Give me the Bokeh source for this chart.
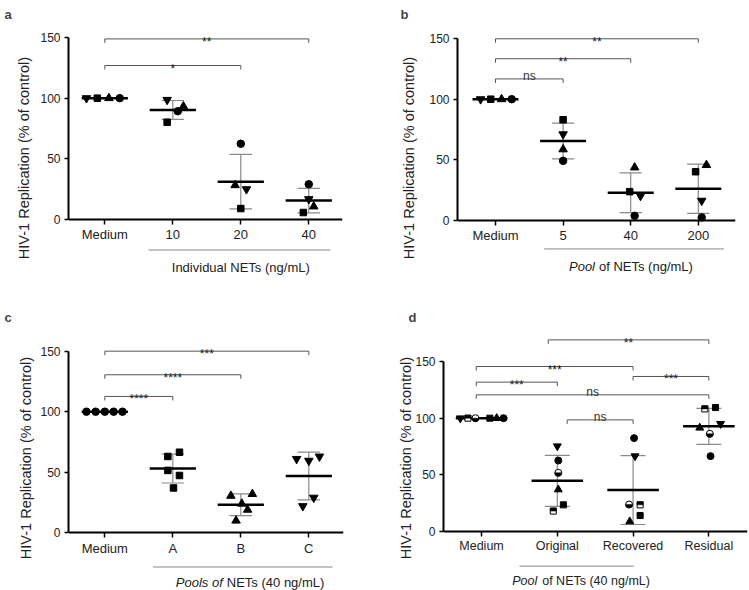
import numpy as np
from bokeh.plotting import figure
from bokeh.models import FixedTicker, LinearAxis
from bokeh.layouts import column, row
from bokeh.embed import file_html
from bokeh.resources import INLINE
from bokeh.core.properties import value

FONT = "Liberation Sans"

# ---------------- data ----------------
y_ticks = [0, 50, 100, 150]
y_title = "HIV-1 Replication (% of control)"

# Panel a (donor order: inverted triangle, square, triangle, circle)
a_categories = ["Medium", "10", "20", "40"]
a_donor_markers = ["inverted_triangle", "square", "triangle", "circle"]
a_medium = [100, 100, 100, 100]
a_10 = [98.6, 80.1, 93.2, 89.2]
a_20 = [24.7, 8.7, 28.0, 62.3]
a_40 = [16.5, 5.4, 10.4, 28.8]
a_brk_from = [0, 0]
a_brk_to = [2, 3]
a_brk_y = [127, 149]
a_brk_text = ["*", "**"]
a_sub = [("", "normal"), ("Individual NETs (ng/mL)", "normal")]

# Panel b (donor order: inverted triangle, square, triangle, circle)
b_categories = ["Medium", "5", "40", "200"]
b_donor_markers = ["inverted_triangle", "square", "triangle", "circle"]
b_medium = [100, 100, 100, 100]
b_5 = [71.0, 83.0, 58.5, 49.0]
b_40 = [20.0, 23.5, 43.5, 3.5]
b_200 = [16.0, 40.0, 45.5, 2.2]
b_brk_from = [0, 0, 0]
b_brk_to = [1, 2, 3]
b_brk_y = [116.8, 133.5, 150]
b_brk_text = ["ns", "**", "**"]
b_sub = [("Pool", "italic"), ("of NETs (ng/mL)", "normal")]

# Panel c (one marker per group)
c_categories = ["Medium", "A", "B", "C"]
c_group_markers = ["circle", "square", "triangle", "inverted_triangle"]
c_medium = [100, 100, 100, 100, 100]
c_A = [63.0, 66.5, 51.5, 47.3, 37.0]
c_B = [30.5, 32.0, 24.0, 19.0, 10.0]
c_C = [61.0, 59.5, 63.0, 29.0, 22.0]
c_brk_from = [0, 0, 0]
c_brk_to = [1, 2, 3]
c_brk_y = [112.6, 130.5, 150]
c_brk_text = ["****", "****", "***"]
c_sub = [("Pools of", "italic"), ("NETs (40 ng/mL)", "normal")]

# Panel d (donor order: inv. triangle, half square, half circle, square, triangle, circle)
d_categories = ["Medium", "Original", "Recovered", "Residual"]
d_donor_markers = ["inverted_triangle", "half_square", "half_circle", "square", "triangle", "circle"]
d_medium = [100, 100, 100, 100, 100, 100]
d_original = [75.3, 18.0, 51.8, 23.5, 37.0, 62.6]
d_recovered = [66.5, 23.5, 23.8, 14.1, 8.8, 82.4]
d_residual = [95.0, 108.2, 86.2, 109.4, 91.5, 66.5]
d_brk_from = [0.88, -0.07, -0.07, 2, -0.07, 1.13]
d_brk_to = [3, 2, 1, 3, 3, 2]
d_brk_y = [169.1, 145.6, 131.8, 136.8, 120.6, 98.5]
d_brk_text = ["**", "***", "***", "***", "ns", "ns"]
d_sub = [("Pool", "italic"), ("of NETs (40 ng/mL)", "normal")]

# ---------------- layout / style (not data) ----------------
a_jit = [[-0.27, -0.11, 0.06, 0.22], [-0.083, -0.083, 0.156, 0.073],
         [0.083, 0.0, -0.083, 0.0], [0.0, -0.08, 0.073, 0.0]]
b_jit = [[-0.22, -0.07, 0.09, 0.24], [0, 0, 0, 0],
         [0.145, -0.015, 0.058, 0.058], [0.05, -0.04, 0.12, 0.05]]
c_jit = [[-0.27, -0.135, 0.0, 0.13, 0.26], [-0.073, 0.098, -0.073, 0.098, 0.01],
         [-0.146, 0.17, 0.015, 0.1, -0.07], [-0.18, 0.0, 0.156, 0.073, -0.088]]
d_jit = [[-0.28, -0.18, -0.08, 0.11, 0.2, 0.29], [0.0, -0.053, 0.013, 0.08, 0.013, 0.013],
         [0.026, 0.093, -0.053, 0.093, -0.044, 0.013], [0.154, -0.053, 0.013, 0.088, -0.12, 0.022]]

EB = "#8a8a8a"
BRK = "#555555"
SIZES = {"circle": 7.5, "square": 6.5, "triangle": 8.5, "inverted_triangle": 8.5,
         "half_circle": 7.5, "half_square": 6.5}


def make_panel(W, H, borders, xr, yr, cats, groups, marker_lists, jit, brk, sub_line,
               sub_y, sub_x, sub_parts, sub_split_px, letter, letter_offset, letter_standoff,
               title_standoff, xfs, yfs, tfs, msc=1.0):
    left, right, top, bottom = borders
    p = figure(width=W, height=H, x_range=xr, y_range=yr, output_backend="svg",
               toolbar_location=None, min_border_left=left, min_border_right=right,
               min_border_top=top, min_border_bottom=bottom,
               x_axis_type=None, y_axis_type=None)
    p.grid.visible = False
    p.outline_line_color = None
    k = (H - top - bottom) / (yr[1] - yr[0])

    p.title.text = letter
    p.title.text_font = FONT
    p.title.text_font_size = "13px"
    p.title.text_font_style = "bold"
    p.title.align = "left"
    p.title.offset = letter_offset
    p.title.standoff = letter_standoff

    yax = LinearAxis(bounds=(y_ticks[0], y_ticks[-1]), ticker=FixedTicker(ticks=y_ticks),
                     axis_label=y_title)
    yax.axis_line_width = 2
    yax.major_tick_line_width = 1.5
    yax.major_tick_out = 4
    yax.major_tick_in = 0
    yax.major_label_standoff = 4
    yax.major_label_text_font = FONT
    yax.major_label_text_font_size = yfs
    yax.major_label_text_color = "#222222"
    yax.axis_label_text_font = FONT
    yax.axis_label_text_font_size = tfs
    yax.axis_label_text_font_style = "normal"
    yax.axis_label_text_color = "#222222"
    yax.axis_label_standoff = title_standoff
    p.add_layout(yax, "left")

    xax = LinearAxis(ticker=FixedTicker(ticks=list(range(len(cats)))),
                     major_label_overrides={i: c for i, c in enumerate(cats)},
                     fixed_location=0)
    xax.axis_line_width = 2
    xax.major_tick_line_width = 1.5
    xax.major_tick_out = 5
    xax.major_tick_in = 0
    xax.major_label_standoff = 3
    xax.major_label_text_font = FONT
    xax.major_label_text_font_size = xfs
    xax.major_label_text_color = "#222222"
    p.add_layout(xax, "below")

    half_w, cap = 0.34, 0.165
    for gi, (vals, mks, jj) in enumerate(zip(groups, marker_lists, jit)):
        v = np.array(vals, dtype=float)
        m = v.mean()
        sd = v.std(ddof=1)
        if sd > 0:
            p.segment(x0=[gi], y0=[m - sd], x1=[gi], y1=[m + sd], line_color=EB, line_width=1.2)
            p.segment(x0=[gi - cap, gi - cap], y0=[m - sd, m + sd], x1=[gi + cap, gi + cap],
                      y1=[m - sd, m + sd], line_color=EB, line_width=1.2)
        p.segment(x0=[gi - half_w], y0=[m], x1=[gi + half_w], y1=[m],
                  line_color="black", line_width=2.5)
        xs = gi + np.array(jj, dtype=float)
        for x, val, mk in zip(xs, v, mks):
            s = SIZES[mk] * msc
            if mk == "half_circle":
                p.scatter([x], [val], marker="circle", size=s, fill_color="white",
                          line_color="black", line_width=1)
                p.wedge([x], [val], radius=s / 2, radius_units="screen", start_angle=np.pi,
                        end_angle=2 * np.pi, fill_color="black", line_color="black", line_width=0.5)
            elif mk == "half_square":
                p.scatter([x], [val], marker="square", size=s, fill_color="white",
                          line_color="black", line_width=1)
                p.rect([x], [val + s / 4 / k], width=s, width_units="screen", height=s / 2 / k,
                       fill_color="black", line_color="black", line_width=0.5)
            else:
                p.scatter([x], [val], marker=mk, size=s, fill_color="black", line_color="black")

    # significance brackets
    bf, bt, by, btx = brk
    tick = 4 / k
    for x0, x1, yb, lab in zip(bf, bt, by, btx):
        p.multi_line(xs=[[x0, x0, x1, x1]], ys=[[yb - tick, yb, yb, yb - tick]],
                     line_color=BRK, line_width=1)
        if "*" in lab:
            p.text(x=[(x0 + x1) / 2], y=[yb], text=[lab], text_font=value(FONT),
                   text_font_size="12px", text_align="center", text_baseline="alphabetic",
                   y_offset=3, text_color="#222222")
        else:
            p.text(x=[(x0 + x1) / 2], y=[yb], text=[lab], text_font=value(FONT),
                   text_font_size="12px", text_align="center", text_baseline="alphabetic",
                   y_offset=-3, text_color="#333333")

    # group line and subtitle below the axis
    p.line(x=list(sub_line), y=[sub_y[0], sub_y[0]], line_color="#888888", line_width=1)
    (t1, s1), (t2, s2) = sub_parts
    if t1:
        p.text(x=[sub_x], y=[sub_y[1]], text=[t1], text_font=value(FONT), text_font_size=xfs,
               text_font_style=s1, text_baseline="middle", text_align="left", text_color="#222222")
    p.text(x=[sub_x], y=[sub_y[1]], text=[t2], text_font=value(FONT), text_font_size=xfs,
           text_font_style=s2, text_baseline="middle", text_align="left", x_offset=sub_split_px,
           text_color="#222222")
    return p


pa = make_panel(375, 295, (68, 33, 24, 5), (-0.534, 3.496), (-59.1, 160.1), a_categories,
                [a_medium, a_10, a_20, a_40], [a_donor_markers] * 4, a_jit,
                (a_brk_from, a_brk_to, a_brk_y, a_brk_text), (0.644, 3.317), (-25.6, -39.9),
                0.985, a_sub, 0, "a", -64, 8, 5, "13px", "12px", "14.5px")

pb = make_panel(374, 295, (82, 14, 24, 5), (-0.562, 3.55), (-58.3, 161.0), b_categories,
                [b_medium, b_5, b_40, b_200], [b_donor_markers] * 4, b_jit,
                (b_brk_from, b_brk_to, b_brk_y, b_brk_text), (0.72, 3.38), (-23.9, -38.2),
                1.087, b_sub, 30, "b", -57, 8, 9, "13px", "12px", "14.5px")

pc = make_panel(375, 295, (68, 32, 30, 0), (-0.534, 3.51), (-47.7, 171.2), c_categories,
                [c_medium, c_A, c_B, c_C], [[m] * 5 for m in c_group_markers], c_jit,
                (c_brk_from, c_brk_to, c_brk_y, c_brk_text), (0.707, 3.35), (-28.3, -41.3),
                1.044, c_sub, 51, "c", -64, 2, 3, "13px", "12px", "14.5px")

pd_ = make_panel(374, 295, (68, 2, 30, 0), (-0.502, 3.51), (-52.1, 181.8), d_categories,
                 [d_medium, d_original, d_recovered, d_residual], [d_donor_markers] * 4, d_jit,
                 (d_brk_from, d_brk_to, d_brk_y, d_brk_text), (0.5, 2.01), (-30.6, -44.1),
                 0.405, d_sub, 30, "d", -35, 2, -2, "12.5px", "12px", "14.5px", 0.93)

layout = column(row(pa, pb), row(pc, pd_))
open("out.html", "w").write(file_html(layout, INLINE))
